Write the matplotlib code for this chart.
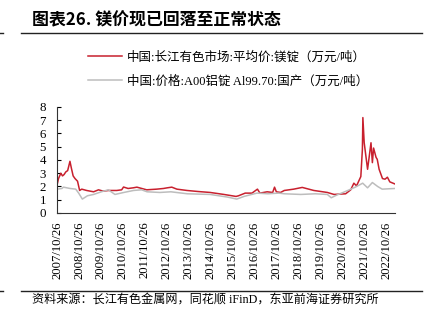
import matplotlib
matplotlib.use('Agg')
import matplotlib.pyplot as plt
import pandas as pd
from matplotlib.lines import Line2D

plt.rcParams['font.family'] = ['Liberation Serif', 'Noto Sans CJK SC', 'DejaVu Sans']

# 镁锭 (长江有色) monthly-ish read-off, 万元/吨
mg_dates = ['2007-10-26', '2007-11-20', '2007-12-28', '2008-01-25', '2008-02-20',
            '2008-03-20', '2008-04-20', '2008-05-28', '2008-06-20', '2008-07-20',
            '2008-08-20', '2008-10-01', '2008-11-05', '2008-12-10', '2009-03-01',
            '2009-06-25', '2009-09-15', '2009-12-01', '2010-03-01', '2010-07-15',
            '2010-10-05', '2010-11-05', '2011-01-20', '2011-04-15', '2011-06-15',
            '2011-11-25', '2012-05-10', '2012-08-30', '2012-11-01', '2013-01-15',
            '2013-04-10', '2013-09-25', '2014-04-01', '2014-10-15', '2015-06-01',
            '2015-12-20', '2016-01-30', '2016-05-20', '2016-09-10', '2016-12-10',
            '2017-01-20', '2017-05-20', '2017-08-20', '2017-09-20', '2017-10-20',
            '2017-12-30', '2018-03-01', '2018-08-05', '2018-12-25', '2019-07-05',
            '2020-02-15', '2020-06-05', '2020-12-15', '2021-03-10', '2021-05-01',
            '2021-06-15', '2021-08-25', '2021-09-20', '2021-09-28', '2021-10-20',
            '2021-12-15', '2022-01-10', '2022-02-10', '2022-03-05', '2022-03-25',
            '2022-05-05', '2022-05-25', '2022-06-25', '2022-08-20', '2022-10-01',
            '2022-11-10', '2022-12-20', '2023-03-10']
mg_price = [2.1, 2.6, 3.0, 2.8, 2.9,
            3.1, 3.2, 3.9, 3.4, 2.8,
            2.6, 2.4, 1.7, 1.8, 1.7,
            1.6, 1.75, 1.65, 1.7, 1.7,
            1.75, 1.96, 1.85, 1.9, 1.95,
            1.75, 1.8, 1.85, 1.9, 1.95,
            1.8, 1.7, 1.62, 1.55, 1.4,
            1.25, 1.3, 1.5, 1.5, 1.8,
            1.5, 1.6, 1.55, 1.95, 1.6,
            1.55, 1.7, 1.8, 1.93, 1.7,
            1.55, 1.4, 1.45, 1.75, 2.25,
            2.05, 2.75, 4.8, 7.2, 5.3,
            3.3, 4.2, 5.3, 3.8, 4.9,
            4.2, 4.05, 3.3, 2.6, 2.55,
            2.7, 2.35, 2.2]

# A00铝锭
al_dates = ['2007-10-26', '2008-01-15', '2008-02-10', '2008-06-01', '2008-09-01',
            '2008-10-20', '2008-12-20', '2009-03-15', '2009-06-25', '2009-11-01',
            '2010-02-25', '2010-06-15', '2010-11-10', '2011-04-20', '2011-09-01',
            '2011-12-01', '2012-07-01', '2013-01-01', '2013-10-01', '2014-10-15',
            '2015-08-01', '2016-01-01', '2016-05-01', '2016-12-01', '2017-06-01',
            '2017-12-01', '2018-03-01', '2018-12-01', '2019-08-01', '2020-02-15',
            '2020-04-20', '2020-07-20', '2021-01-20', '2021-05-25', '2021-09-25',
            '2021-12-15', '2022-03-05', '2022-06-01', '2022-08-15', '2023-03-10']
al_price = [1.8, 1.85, 1.95, 1.85, 1.8,
            1.5, 1.05, 1.3, 1.4, 1.6,
            1.75, 1.4, 1.55, 1.7, 1.75,
            1.6, 1.55, 1.6, 1.45, 1.4,
            1.2, 1.05, 1.25, 1.5, 1.45,
            1.5, 1.45, 1.4, 1.45, 1.4,
            1.15, 1.35, 1.7, 1.95, 2.25,
            1.9, 2.3, 2.0, 1.8, 1.85]

mg_label = '中国:长江有色市场:平均价:镁锭（万元/吨）'
al_label = '中国:价格:A00铝锭 Al99.70:国产（万元/吨）'
tick_dates = pd.date_range('2007-10-26', '2022-10-26', freq=pd.DateOffset(years=1))

fig = plt.figure(figsize=(4.31, 3.24), dpi=100)
ax = fig.add_axes([0.1323, 0.3426, 0.784, 0.3272])

ax.plot(pd.to_datetime(mg_dates), mg_price, color='#C8202E', lw=1.1, label=mg_label)
ax.plot(pd.to_datetime(al_dates), al_price, color='#BDBDBD', lw=1.1, label=al_label)

ax.set_ylim(0, 8)
ax.set_yticks(range(0, 9))
ax.set_xlim(pd.Timestamp('2007-10-26'), pd.Timestamp('2023-03-15'))
ax.set_xticks(tick_dates)
ax.set_xticklabels([d.strftime('%Y/%m/%d') for d in tick_dates], rotation=90, fontsize=9.1)
ax.tick_params(axis='y', direction='in', length=3, pad=8, labelsize=9.3)
ax.tick_params(axis='x', length=0, pad=6)
for s in ['top', 'right']:
    ax.spines[s].set_visible(False)
for s in ['left', 'bottom']:
    ax.spines[s].set_color('#333333')
    ax.spines[s].set_linewidth(0.8)

fig.legend(loc='upper left', bbox_to_anchor=(0.178, 0.877), frameon=False,
           fontsize=9, handlelength=2.7, handletextpad=0.4, labelspacing=0.95)

fig.text(0.074, 0.938, '图表26. 镁价现已回落至正常状态', fontsize=12.2, fontweight='bold',
         family=['Noto Sans CJK SC'], va='center', ha='left')
fig.add_artist(Line2D([0.049, 0.979], [0.897, 0.897], color='#222222', lw=1.0))
fig.add_artist(Line2D([0.0, 0.007], [0.897, 0.897], color='#222222', lw=1.0))
fig.add_artist(Line2D([0.049, 0.979], [0.102, 0.102], color='#222222', lw=1.0))
fig.add_artist(Line2D([0.0, 0.007], [0.102, 0.102], color='#222222', lw=1.0))
fig.text(0.074, 0.074, '资料来源：长江有色金属网，同花顺 iFinD，东亚前海证券研究所', fontsize=8.7,
         va='center', ha='left')

fig.savefig('out.png', dpi=100)
